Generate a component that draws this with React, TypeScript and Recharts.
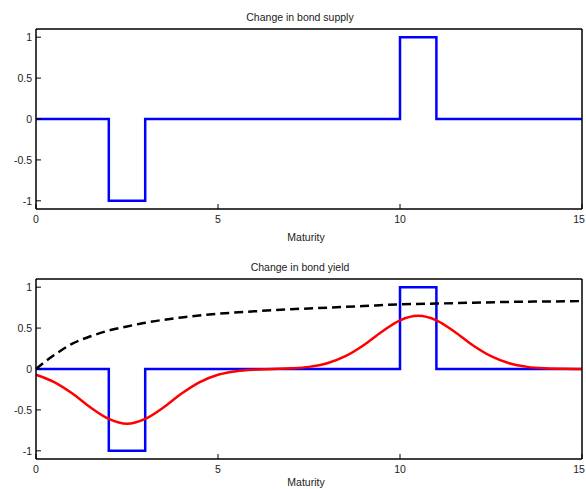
import React from "react";
import { LineChart, Line, XAxis, YAxis } from "recharts";

// maturities where the bond supply changes (step function)
const supplyMaturity = [0, 2, 3, 10, 11, 15];
const supplyChange = [0, -1, 0, 1, 0, 0];

// yield response
const yieldMaturity = [
  0, 0.5, 1, 1.5, 2, 2.5, 3, 3.5, 4, 4.5, 5, 5.5, 6, 6.5, 7, 7.5, 8, 8.5, 9, 9.5,
  10, 10.5, 11, 11.5, 12, 12.5, 13, 13.5, 14, 14.5, 15,
];
const yieldChange = [
  -0.07, -0.16, -0.3, -0.47, -0.61, -0.67, -0.61, -0.47, -0.3, -0.16, -0.07,
  -0.027, -0.008, 0, 0.008, 0.026, 0.07, 0.156, 0.29, 0.455, 0.595, 0.65,
  0.595, 0.455, 0.29, 0.156, 0.07, 0.026, 0.008, 0.002, 0,
];

// black dashed reference curve
const refMaturity = [0, 0.25, 0.5, 1, 1.5, 2, 2.5, 3, 4, 5, 6, 7, 8, 9, 10, 11, 12, 13, 14, 15];
const refValue = [
  0, 0.09, 0.17, 0.31, 0.4, 0.47, 0.52, 0.565, 0.63, 0.675, 0.705, 0.73, 0.75,
  0.77, 0.79, 0.8, 0.81, 0.82, 0.825, 0.83,
];

const xTicks = [0, 5, 10, 15];
const yTicks = [-1, -0.5, 0, 0.5, 1];

const zip = (xs: number[], ys: number[]) => xs.map((x, i) => ({ x, y: ys[i] }));

const supplyData = zip(supplyMaturity, supplyChange);
const yieldData = zip(yieldMaturity, yieldChange);
const refData = zip(refMaturity, refValue);

const FONT = "'Liberation Sans', Arial, sans-serif";
const tickStyle = { fontSize: 10.5, fill: "#222", fontFamily: FONT };
const axisLine = { stroke: "#000", strokeWidth: 1.5 };
const tickLine = { stroke: "#000", strokeWidth: 1 };

// bottom tick label; the last one is nudged left so it stays inside the page
const XTick = (props: any) => {
  const { x, y, payload } = props;
  const last = payload.value === xTicks[xTicks.length - 1];
  return (
    <text
      x={last ? x - 3 : x}
      y={y}
      dy="0.71em"
      textAnchor="middle"
      fontSize={10.5}
      fill="#222"
      fontFamily={FONT}
    >
      {payload.value}
    </text>
  );
};

const Axes = () => [
  <XAxis
    key="xb"
    xAxisId="b"
    dataKey="x"
    type="number"
    domain={[0, 15]}
    ticks={xTicks}
    interval={0}
    height={36}
    tickSize={-5}
    tickMargin={12}
    axisLine={axisLine}
    tickLine={tickLine}
    tick={<XTick />}
    allowDuplicatedCategory={false}
  />,
  <XAxis
    key="xt"
    xAxisId="t"
    orientation="top"
    dataKey="x"
    type="number"
    domain={[0, 15]}
    ticks={xTicks}
    interval={0}
    height={29}
    tickSize={-5}
    axisLine={axisLine}
    tickLine={tickLine}
    tick={false}
  />,
  <YAxis
    key="yl"
    yAxisId="l"
    type="number"
    domain={[-1.1, 1.1]}
    ticks={yTicks}
    interval={0}
    width={36}
    tickSize={-5}
    tickMargin={9}
    axisLine={axisLine}
    tickLine={tickLine}
    tick={tickStyle}
  />,
  <YAxis
    key="yr"
    yAxisId="r"
    orientation="right"
    type="number"
    domain={[-1.1, 1.1]}
    ticks={yTicks}
    interval={0}
    width={1}
    tickSize={-5}
    axisLine={axisLine}
    tickLine={tickLine}
    tick={false}
  />,
];

const textStyle: React.CSSProperties = {
  position: "absolute",
  width: 200,
  textAlign: "center",
  fontFamily: FONT,
  fontSize: 10.5,
  lineHeight: "12px",
  color: "#222",
};

const Panel = ({
  top,
  title,
  labelTop,
  children,
}: {
  top: number;
  title: string;
  labelTop: number;
  children: React.ReactNode;
}) => (
  <div style={{ position: "absolute", left: 0, top, width: 586, height: 245 }}>
    <div style={{ ...textStyle, left: 200, top: 11 }}>{title}</div>
    <LineChart width={586} height={245} margin={{ top: 0, right: 3, bottom: 0, left: 0 }}>
      {Axes()}
      {children}
    </LineChart>
    <div style={{ ...textStyle, left: 206, top: labelTop }}>Maturity</div>
  </div>
);

export default function App() {
  return (
    <div
      style={{
        position: "absolute",
        left: 0,
        top: 0,
        width: 586,
        height: 489,
        overflow: "hidden",
        background: "#fff",
      }}
    >
      <Panel top={0} title="Change in bond supply" labelTop={231}>
        <Line
          data={supplyData}
          xAxisId="b"
          yAxisId="l"
          dataKey="y"
          type="stepAfter"
          stroke="#0000ff"
          strokeWidth={2.5}
          dot={false}
          isAnimationActive={false}
        />
      </Panel>
      <Panel top={250} title="Change in bond yield" labelTop={226}>
        <Line
          data={supplyData}
          xAxisId="b"
          yAxisId="l"
          dataKey="y"
          type="stepAfter"
          stroke="#0000ff"
          strokeWidth={2.5}
          dot={false}
          isAnimationActive={false}
        />
        <Line
          data={refData}
          xAxisId="b"
          yAxisId="l"
          dataKey="y"
          type="monotone"
          stroke="#000"
          strokeWidth={2.5}
          strokeDasharray="9 5"
          dot={false}
          isAnimationActive={false}
        />
        <Line
          data={yieldData}
          xAxisId="b"
          yAxisId="l"
          dataKey="y"
          type="monotone"
          stroke="#ff0000"
          strokeWidth={2.5}
          dot={false}
          isAnimationActive={false}
        />
      </Panel>
    </div>
  );
}
